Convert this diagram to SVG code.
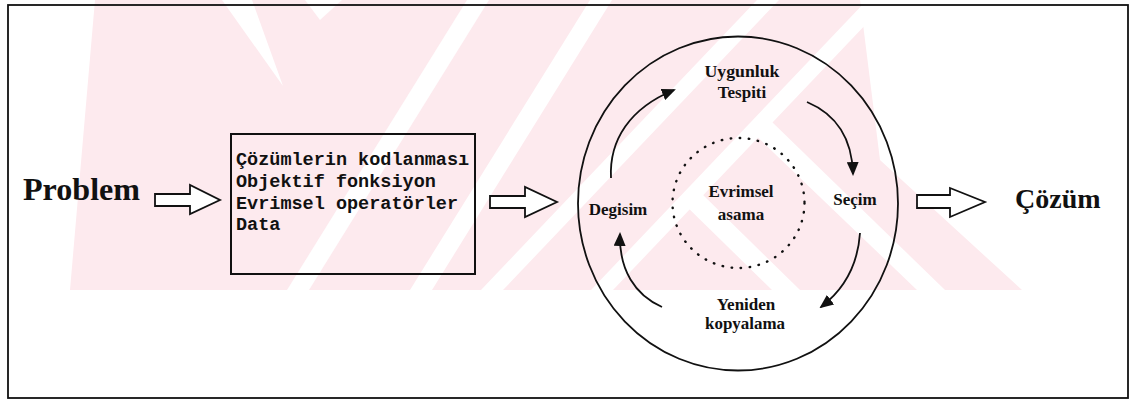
<svg xmlns="http://www.w3.org/2000/svg" width="1131" height="403" viewBox="0 0 1131 403">
<style>
.ln{fill:none;stroke:#111;stroke-width:1.8}
.blk{fill:#fff;stroke:#111;stroke-width:1.8;stroke-linejoin:miter}
.big{font-family:"Liberation Serif",serif;font-weight:bold;fill:#111}
.mono{font-family:"Liberation Mono",monospace;font-weight:bold;font-size:18.5px;fill:#111}
.lbl{font-family:"Liberation Serif",serif;font-weight:bold;font-size:17px;fill:#111;text-anchor:middle}
.wm{fill:#fdeaee}
.wg{fill:#fff}
</style>
<defs>
<marker id="ah" markerUnits="userSpaceOnUse" markerWidth="14" markerHeight="12" refX="12" refY="6" orient="auto" viewBox="0 0 14 12">
<path d="M0,0 L14,6 L0,12 z" fill="#111"/>
</marker>
<clipPath id="wclip"><rect x="60" y="0" width="970" height="290"/></clipPath>
</defs>
<rect x="0" y="0" width="1131" height="403" fill="#fff"/>
<g id="watermark" clip-path="url(#wclip)">
<polygon class="wm" points="95,0 860,0 880,160 1022,290 70,290"/>
<polygon class="wg" points="222,0 252,0 283,86"/>
<polygon class="wg" points="305,0 342,0 320,20"/>
<polygon class="wg" points="467,0 489,0 309,290 287,290"/>
<polygon class="wg" points="590,0 612,0 432,290 410,290"/>
<polygon class="wg" points="757,0 779,0 503,290 481,290"/>
<polygon class="wg" points="867,0 889,0 613,290 591,290"/>
<polygon class="wg" points="748,128 770,120 945,290 917,290"/>
<polygon class="wg" points="680,200 700,192 800,290 772,290"/>
</g>
<rect id="frame" x="8" y="5" width="1120" height="393" fill="none" stroke="#111" stroke-width="1.8"/>
<g id="problem">
<text class="big" x="23" y="200" font-size="31" textLength="117" lengthAdjust="spacingAndGlyphs">Problem</text>
</g>
<g id="box">
<rect x="231" y="134" width="244" height="140" fill="none" stroke="#111" stroke-width="2"/>
<text class="mono" x="236" y="165">Çözümlerin kodlanması</text>
<text class="mono" x="236" y="187">Objektif fonksiyon</text>
<text class="mono" x="236" y="209">Evrimsel operatörler</text>
<text class="mono" x="236" y="230">Data</text>
</g>
<g id="cycle">
<ellipse cx="738" cy="203.5" rx="160" ry="167" class="ln"/>
<ellipse cx="738.5" cy="203" rx="66" ry="65" fill="none" stroke="#111" stroke-width="2.4" stroke-linecap="round" stroke-dasharray="0.5 8.6"/>
</g>
<g id="uygunluk">
<text class="lbl" x="742" y="77" textLength="75" lengthAdjust="spacingAndGlyphs">Uygunluk</text>
<text class="lbl" x="742" y="98">Tespiti</text>
</g>
<g id="secim">
<text class="lbl" x="855" y="205">Seçim</text>
</g>
<g id="degisim">
<text class="lbl" x="618" y="215">Degisim</text>
</g>
<g id="evrimsel">
<text class="lbl" x="741" y="197">Evrimsel</text>
<text class="lbl" x="741" y="220">asama</text>
</g>
<g id="yeniden">
<text class="lbl" x="746" y="310">Yeniden</text>
<text class="lbl" x="745" y="329" textLength="80" lengthAdjust="spacingAndGlyphs">kopyalama</text>
</g>
<g id="cozum">
<text class="big" x="1015" y="208" font-size="28">Çözüm</text>
</g>
<g id="connectors">
<path class="blk" d="M155,194 H190 V185 L220,200 L190,214 V206 H155 Z"/>
<path class="blk" d="M490,196 H525 V187 L557,202 L525,217 V208 H490 Z"/>
<path class="blk" d="M917,195 H950 V188 L985,202 L950,217 V208 H917 Z"/>
<path class="ln" stroke-width="1.6" marker-end="url(#ah)" d="M611,178 C609,140 630,108 674,90"/>
<path class="ln" stroke-width="1.6" marker-end="url(#ah)" d="M807,102 C833,113 852,135 853,174"/>
<path class="ln" stroke-width="1.6" marker-end="url(#ah)" d="M860,233 C858,262 846,288 821,307"/>
<path class="ln" stroke-width="1.6" marker-end="url(#ah)" d="M662,307 C635,295 619,270 620,234"/>
</g>
</svg>
